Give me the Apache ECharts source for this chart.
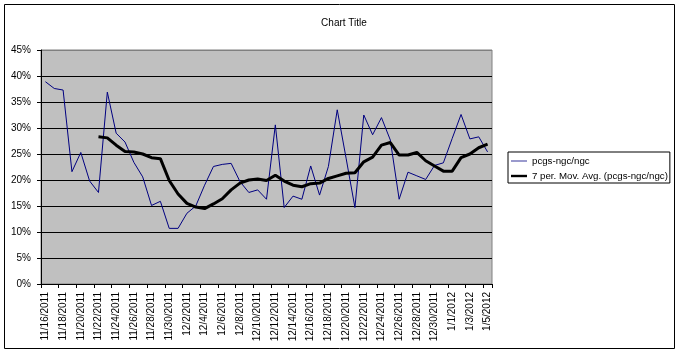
<!DOCTYPE html>
<html>
<head>
<meta charset="utf-8">
<script src="https://cdn.jsdelivr.net/npm/echarts@6/dist/echarts.min.js"></script>
<style>
html,body{margin:0;padding:0;background:#fff;}
#chart{width:683px;height:355px;}
</style>
</head>
<body>
<div id="chart"></div>
<script>
const categories = [
  '11/16/2011','11/17/2011','11/18/2011','11/19/2011','11/20/2011','11/21/2011','11/22/2011','11/23/2011','11/24/2011','11/25/2011',
  '11/26/2011','11/27/2011','11/28/2011','11/29/2011','11/30/2011','12/1/2011','12/2/2011','12/3/2011','12/4/2011','12/5/2011',
  '12/6/2011','12/7/2011','12/8/2011','12/9/2011','12/10/2011','12/11/2011','12/12/2011','12/13/2011','12/14/2011','12/15/2011',
  '12/16/2011','12/17/2011','12/18/2011','12/19/2011','12/20/2011','12/21/2011','12/22/2011','12/23/2011','12/24/2011','12/25/2011',
  '12/26/2011','12/27/2011','12/28/2011','12/29/2011','12/30/2011','12/31/2011','1/1/2012','1/2/2012','1/3/2012','1/4/2012','1/5/2012'
];
const ratioValues = [
  38.9, 37.6, 37.3, 21.6, 25.3, 19.8, 17.6, 36.9, 29.0, 27.3,
  23.4, 20.6, 15.1, 15.9, 10.7, 10.7, 13.6, 15.0, 19.0, 22.6,
  23.0, 23.2, 19.7, 17.6, 18.1, 16.3, 30.6, 14.7, 16.9, 16.3,
  22.7, 17.1, 22.6, 33.5, 24.2, 14.7, 32.5, 28.7, 32.0, 27.7,
  16.3, 21.5, 20.8, 20.1, 22.8, 23.3, 28.0, 32.6, 27.9, 28.3, 25.4
];
const movAvgValues = [
  null, null, null, null, null, null, 28.3, 28.1, 26.7, 25.5,
  25.4, 25.0, 24.3, 24.1, 19.9, 17.3, 15.5, 14.8, 14.5, 15.4,
  16.4, 18.1, 19.4, 20.0, 20.2, 19.9, 20.9, 19.8, 19.0, 18.7,
  19.3, 19.4, 20.3, 20.8, 21.3, 21.4, 23.5, 24.4, 26.7, 27.2,
  24.8, 24.8, 25.3, 23.7, 22.7, 21.7, 21.7, 24.3, 25.0, 26.2, 26.9
];
const seriesNames = ['pcgs-ngc/ngc', '7 per. Mov. Avg. (pcgs-ngc/ngc)'];
const chartTitle = 'Chart Title';

const FONT = 'Liberation Sans, Arial, sans-serif';
const chart = echarts.init(document.getElementById('chart'), null, {renderer: 'canvas'});
const splitColors = ['#000','#000','#000','#000','#000','#000','#000','#000','#000','#808080'];
chart.setOption({
  animation: false,
  backgroundColor: '#fff',
  title: {
    text: chartTitle, left: 339, top: 13, textAlign: 'center',
    textStyle: {fontFamily: FONT, fontSize: 10, fontWeight: 'normal', color: '#000'}
  },
  graphic: [{
    type: 'rect', shape: {x: 4.5, y: 4.5, width: 670, height: 344},
    style: {fill: 'none', stroke: '#000', lineWidth: 1}, silent: true, z: 0
  }],
  legend: {
    orient: 'vertical', left: 508, top: 152,
    itemWidth: 16, itemHeight: 10, itemGap: 5,
    padding: [4, 2, 2, 3],
    borderColor: '#000', borderWidth: 1, backgroundColor: '#fff',
    textStyle: {fontFamily: FONT, fontSize: 9.7, color: '#000'},
    data: [
      {name: seriesNames[0], icon: 'path://M0,0 H20 V1 H0 Z', itemStyle: {color: '#000080'}},
      {name: seriesNames[1], icon: 'path://M0,0 H20 V3 H0 Z', itemStyle: {color: '#000'}}
    ]
  },
  grid: {
    left: 41, top: 50, right: 191, bottom: 71,
    show: true, backgroundColor: '#c0c0c0', borderColor: '#808080', borderWidth: 1
  },
  xAxis: {
    type: 'category', data: categories, boundaryGap: true,
    axisLine: {lineStyle: {color: '#000', width: 1}},
    axisTick: {show: true, interval: 1, length: 4, lineStyle: {color: '#000'}},
    axisLabel: {
      interval: 1, rotate: 90, margin: 8, color: '#000',
      fontFamily: FONT, fontSize: 10
    },
    splitLine: {show: false}
  },
  yAxis: {
    type: 'value', min: 0, max: 45, interval: 5,
    axisLine: {show: true, lineStyle: {color: '#000', width: 1}},
    axisTick: {show: true, length: 4, lineStyle: {color: '#000'}},
    axisLabel: {formatter: '{value}%', margin: 10, color: '#000', fontFamily: FONT, fontSize: 10},
    splitLine: {show: true, lineStyle: {color: splitColors, width: 1}}
  },
  series: [
    {
      name: seriesNames[0], type: 'line', data: ratioValues,
      symbol: 'none', lineStyle: {color: '#000080', width: 1}, itemStyle: {color: '#000080'}, z: 3
    },
    {
      name: seriesNames[1], type: 'line', data: movAvgValues,
      symbol: 'none', connectNulls: false,
      lineStyle: {color: '#000', width: 3}, itemStyle: {color: '#000'}, z: 4
    }
  ]
});
</script>
</body>
</html>
